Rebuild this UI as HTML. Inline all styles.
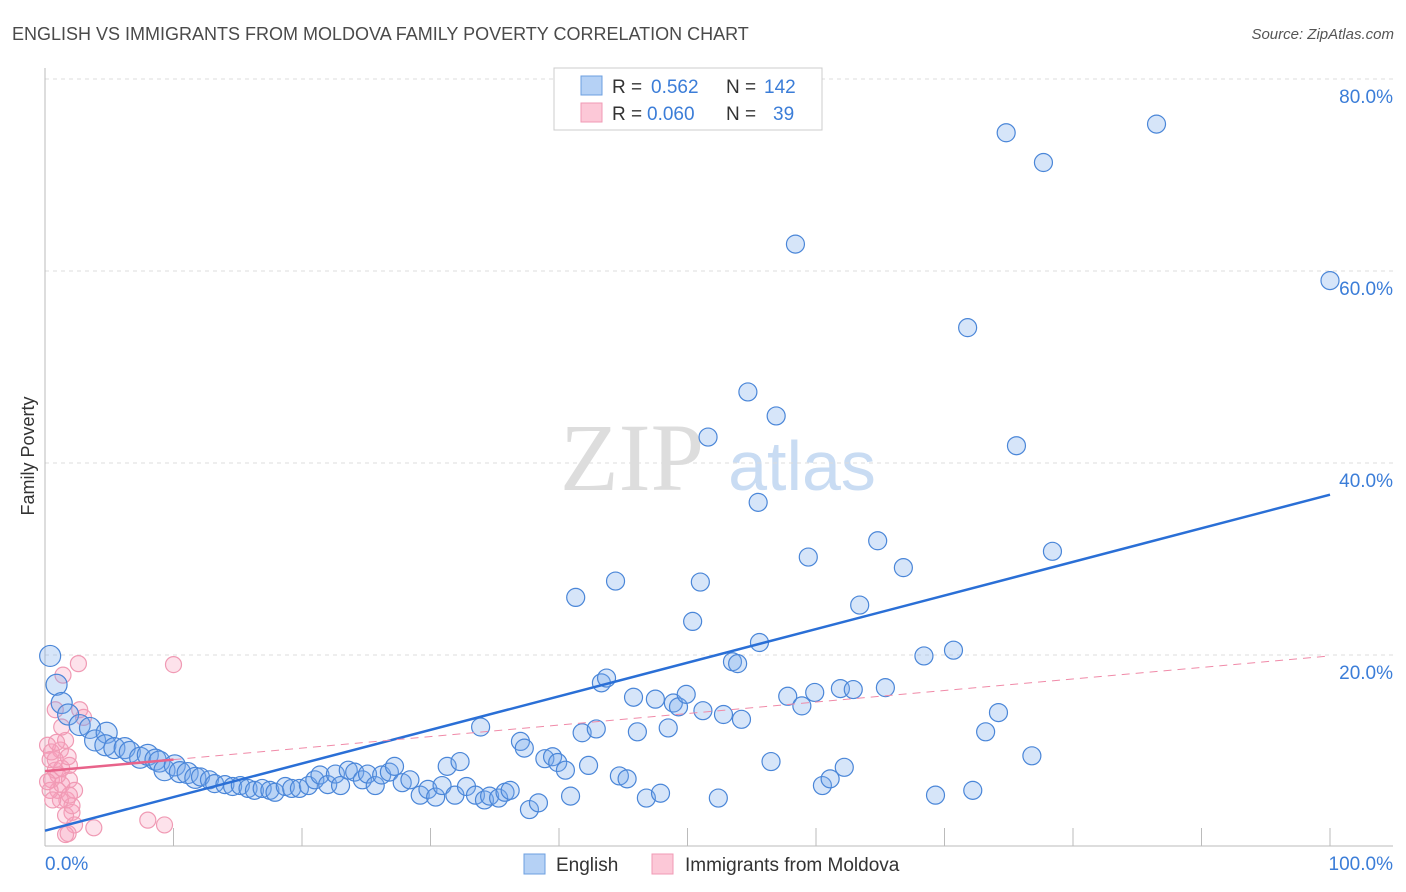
<!DOCTYPE html>
<html><head><meta charset="utf-8"><style>
body{margin:0;background:#fff;font-family:"Liberation Sans",sans-serif;}
svg{display:block}
</style></head><body>
<svg width="1406" height="892" xmlns="http://www.w3.org/2000/svg" font-family="Liberation Sans, sans-serif">
<text x="12" y="40" font-size="18" fill="#4a4a4a">ENGLISH VS IMMIGRANTS FROM MOLDOVA FAMILY POVERTY CORRELATION CHART</text>
<text x="1394" y="39" font-size="15" fill="#555" font-style="italic" text-anchor="end">Source: ZipAtlas.com</text>
<text transform="translate(34,456) rotate(-90)" font-size="18" fill="#333" text-anchor="middle">Family Poverty</text>
<g>
<text x="632" y="490" font-family="Liberation Serif, serif" font-size="96" fill="#ddd" text-anchor="middle">ZIP</text>
<text x="802" y="490" font-size="70" fill="#c9dcf3" text-anchor="middle">atlas</text>
</g>
<g id="grid"></g>
<g id="axes"></g>
<g id="pts"></g>
<g id="lines"></g>
<g>
<rect x="554" y="68" width="268" height="62" fill="#fff" stroke="#ccc"/>
<rect x="581" y="76" width="21" height="19" fill="#b5d1f5" stroke="#6c9fe0"/>
<rect x="581" y="103" width="21" height="19" fill="#fcc8d7" stroke="#f09ab4"/>
<text x="612" y="93" font-size="19" fill="#333">R =</text>
<text x="651" y="93" font-size="19" fill="#3b7dd8">0.562</text>
<text x="726" y="93" font-size="19" fill="#333">N =</text>
<text x="764" y="93" font-size="19" fill="#3b7dd8">142</text>
<text x="612" y="120" font-size="19" fill="#333">R =</text>
<text x="647" y="120" font-size="19" fill="#3b7dd8">0.060</text>
<text x="726" y="120" font-size="19" fill="#333">N =</text>
<text x="773" y="120" font-size="19" fill="#3b7dd8">39</text>
</g>
<g>
<rect x="524" y="854" width="21" height="20" fill="#b5d1f5" stroke="#6c9fe0"/>
<text x="556" y="871" font-size="19" fill="#333">English</text>
<rect x="652" y="854" width="21" height="20" fill="#fcc8d7" stroke="#f09ab4"/>
<text x="685" y="871" font-size="19" fill="#333">Immigrants from Moldova</text>
</g>
</svg>
<script>
const yTicks=[20,40,60,80];
const yTickLabels=["20.0%","40.0%","60.0%","80.0%"];
const xTickLabels=["0.0%","100.0%"];
const englishX=[0.4,0.9,1.3,1.8,2.7,3.5,3.9,4.8,4.7,5.4,6.2,6.6,7.4,8.0,8.6,8.9,9.3,10.1,10.5,11.1,11.7,12.1,12.8,13.2,14.0,14.6,15.2,15.8,16.3,16.9,17.5,17.9,18.7,19.2,19.8,20.5,21.0,21.4,22.0,22.6,23.0,23.6,24.1,24.7,25.1,25.7,26.2,26.8,27.2,27.8,28.4,29.2,29.8,30.4,30.9,31.3,31.9,32.3,32.8,33.5,34.2,34.6,35.3,35.8,36.2,33.9,37.0,37.3,37.7,38.4,38.9,39.5,39.9,40.5,40.9,41.3,41.8,42.3,42.9,43.3,43.7,44.4,44.7,45.3,45.8,46.1,46.8,47.5,47.9,48.5,48.9,49.3,49.9,50.4,51.0,51.2,51.6,52.4,52.8,53.5,53.9,54.2,54.7,55.5,55.6,56.5,56.9,57.8,58.4,58.9,59.4,59.9,60.5,61.1,61.9,62.2,62.9,63.4,64.8,65.4,66.8,68.4,69.3,70.7,71.8,72.2,73.2,74.2,74.8,75.6,76.8,77.7,78.4,86.5,100.0];
const englishY=[19.9,16.9,15.0,13.8,12.7,12.4,11.1,11.9,10.6,10.3,10.3,9.9,9.3,9.6,9.1,8.9,8.0,8.5,7.8,7.7,7.2,7.3,7.0,6.6,6.5,6.3,6.4,6.1,5.9,6.1,5.9,5.7,6.3,6.1,6.1,6.4,7.0,7.5,6.5,7.6,6.4,8.0,7.8,7.0,7.6,6.4,7.5,7.8,8.4,6.7,7.0,5.4,6.0,5.2,6.4,8.4,5.4,8.9,6.3,5.4,4.9,5.3,5.1,5.7,5.9,12.5,11.0,10.3,3.9,4.6,9.2,9.4,8.8,8.0,5.3,26.0,11.9,8.5,12.3,17.1,17.6,27.7,7.4,7.1,15.6,12.0,5.1,15.4,5.6,12.4,15.0,14.6,15.9,23.5,27.6,14.2,42.7,5.1,13.8,19.3,19.1,13.3,47.4,35.9,21.3,8.9,44.9,15.7,62.8,14.7,30.2,16.1,6.4,7.1,16.5,8.3,16.4,25.2,31.9,16.6,29.1,19.9,5.4,20.5,54.1,5.9,12.0,14.0,74.4,41.8,9.5,71.3,30.8,75.3,59.0];
const moldovaX=[0.2,0.4,0.5,0.8,1.0,1.2,1.3,1.4,1.6,1.7,1.9,2.1,2.3,2.6,2.7,3.0,1.8,1.6,3.8,8.0,9.3,10.0,0.8,1.9,2.1,1.0,1.2,0.4,1.3,1.6,0.8,2.3,0.2,0.5,1.8,1.3,0.9,1.9,0.6];
const moldovaY=[10.6,9.1,7.0,8.0,5.9,10.1,6.5,17.9,11.1,4.9,8.5,3.6,2.3,19.1,14.3,13.5,1.4,3.3,2.0,2.8,2.3,19.0,14.3,7.0,4.3,7.5,4.9,5.9,8.2,1.3,9.1,5.9,6.8,9.9,9.4,12.5,10.9,5.4,4.9];
const englishFit=[1.7,36.7];
const moldovaFit=[7.9,19.9];
const moldovaSolidEnd=10;

const X0=45,X1=1330,Y0=847,PX=9.6;
const sx=v=>X0+(X1-X0)*v/100;
const sy=v=>Y0-v*PX;
const NS="http://www.w3.org/2000/svg";
function mk(tag,attrs,parent){const e=document.createElementNS(NS,tag);for(const k in attrs)e.setAttribute(k,attrs[k]);parent.appendChild(e);return e;}
const grid=document.getElementById('grid'),axes=document.getElementById('axes'),pts=document.getElementById('pts'),lines=document.getElementById('lines');
yTicks.forEach((t,i)=>{
 const l=mk('line',{x1:X0,x2:1393,y1:sy(t),y2:sy(t),stroke:'#ddd','stroke-dasharray':'4,4'},grid);
 
 
 const tx=mk('text',{x:1393,y:sy(t)+24,'font-size':19,fill:'#3b7dd8','text-anchor':'end'},grid);
 tx.textContent=yTickLabels[i];
 
 
});
const ya=mk('line',{x1:X0,x2:X0,y1:68,y2:846,stroke:'#bbb'},axes);


const xa=mk('line',{x1:X0,x2:1393,y1:846,y2:846,stroke:'#bbb'},axes);


for(let i=1;i<=10;i++){
 const tk=mk('line',{x1:sx(i*10),x2:sx(i*10),y1:828,y2:846,stroke:'#bbb'},axes);
 
 
}
[[0,'start',45],[100,'end',1393]].forEach((d,i)=>{
 const t=mk('text',{x:d[2],y:870,'font-size':19,fill:'#3b7dd8','text-anchor':d[1]},axes);
 t.textContent=xTickLabels[i];
 
 
});
moldovaX.forEach((x,i)=>{
 const c=mk('circle',{cx:sx(x),cy:sy(moldovaY[i]),r:8,fill:'rgba(248,160,188,0.3)',stroke:'#f09ab4','stroke-width':1.2},pts);
 
 
});
englishX.forEach((x,i)=>{
 const c=mk('circle',{cx:sx(x),cy:sy(englishY[i]),r:x<12?10.5:9,fill:'rgba(120,170,235,0.3)',stroke:'#4a86d8','stroke-width':1.2},pts);
 
 
});
const ef=mk('line',{x1:sx(0),y1:sy(englishFit[0]),x2:sx(100),y2:sy(englishFit[1]),stroke:'#2a6fd6','stroke-width':2.5},lines);


const mAt=v=>moldovaFit[0]+(moldovaFit[1]-moldovaFit[0])*v/100;
const md=mk('line',{x1:sx(moldovaSolidEnd),y1:sy(mAt(moldovaSolidEnd)),x2:sx(100),y2:sy(moldovaFit[1]),stroke:'#f08aa8','stroke-width':1,'stroke-dasharray':'8,6'},lines);


const ms=mk('line',{x1:sx(0),y1:sy(moldovaFit[0]),x2:sx(moldovaSolidEnd),y2:sy(mAt(moldovaSolidEnd)),stroke:'#e8638a','stroke-width':2.5},lines);


</script>
</body></html>
